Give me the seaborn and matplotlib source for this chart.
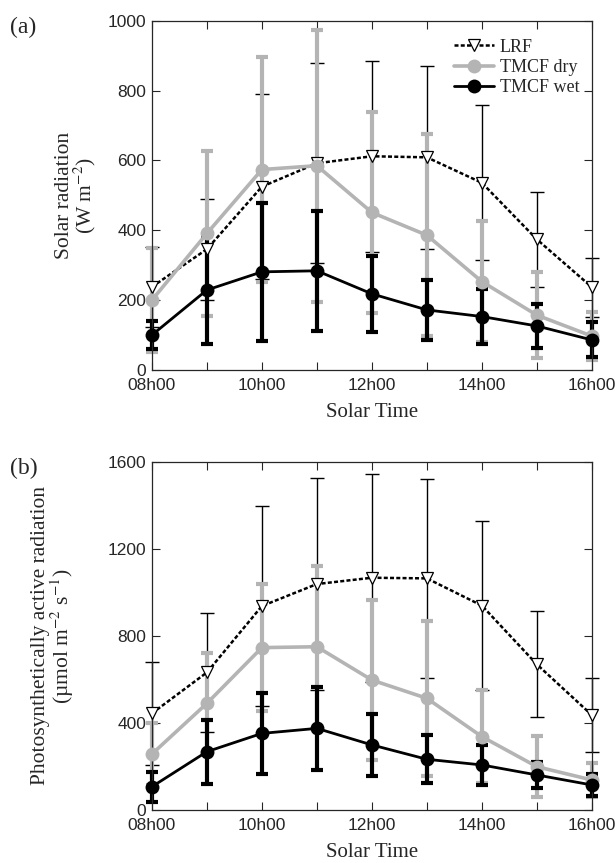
import numpy as np
import pandas as pd
import matplotlib
matplotlib.use("Agg")
import matplotlib.pyplot as plt
import seaborn as sns

# Data
hours = [8, 9, 10, 11, 12, 13, 14, 15, 16]
tick_labels = ["08h00", "10h00", "12h00", "14h00", "16h00"]
series = ["LRF", "TMCF dry", "TMCF wet"]

sr_lrf = [238, 346, 525, 592, 612, 609, 536, 374, 237]
sr_lrf_sd = [115, 145, 265, 286, 274, 262, 222, 135, 85]
sr_dry = [200, 391, 574, 585, 451, 386, 253, 157, 97]
sr_dry_sd = [148, 237, 323, 390, 289, 289, 174, 124, 68]
sr_wet = [100, 229, 281, 284, 218, 172, 153, 126, 86]
sr_wet_sd = [40, 155, 197, 171, 109, 85, 78, 63, 50]

par_lrf = [444, 632, 937, 1038, 1067, 1064, 939, 669, 436]
par_lrf_sd = [237, 274, 459, 488, 478, 458, 390, 244, 169]
par_dry = [257, 490, 746, 750, 597, 513, 337, 199, 138]
par_dry_sd = [141, 230, 292, 371, 368, 357, 214, 140, 80]
par_wet = [107, 268, 352, 375, 299, 233, 207, 161, 115]
par_wet_sd = [68, 147, 186, 191, 143, 110, 90, 61, 50]

sns.set_theme(style="ticks")
plt.rcParams['font.family'] = ['Liberation Sans', 'DejaVu Sans']
plt.rcParams['mathtext.fontset'] = 'stix'
serif = ['Liberation Serif', 'DejaVu Serif']

gray = "#b4b4b4"
styles = {
    "LRF": dict(color="black", lw=1.8, ls=(0, (1.6, 0.9)), marker="v", ms=9,
                mfc="white", mec="black", mew=0.9, elw=1.0, cap=5, capt=1.0),
    "TMCF dry": dict(color=gray, lw=2.6, ls="-", marker="o", ms=10,
                     mfc=gray, mec=gray, mew=0, elw=3.0, cap=4.5, capt=3.0),
    "TMCF wet": dict(color="black", lw=2.0, ls="-", marker="o", ms=10,
                     mfc="black", mec="black", mew=0, elw=3.0, cap=4.5, capt=3.0),
}


def make_df(means, sds):
    rows = []
    for name, m, s in zip(series, means, sds):
        for h, v, e in zip(hours, m, s):
            rows.append({"hour": h, "value": v, "sd": e, "series": name})
    return pd.DataFrame(rows)


df_a = make_df([sr_lrf, sr_dry, sr_wet], [sr_lrf_sd, sr_dry_sd, sr_wet_sd])
df_b = make_df([par_lrf, par_dry, par_wet], [par_lrf_sd, par_dry_sd, par_wet_sd])

fig = plt.figure(figsize=(6.15, 8.63), dpi=100)
ax_a = fig.add_axes([0.247, 0.5713, 0.7154, 0.4046])
ax_b = fig.add_axes([0.247, 0.0614, 0.7154, 0.4036])


def draw(ax, df, ymax, ystep, ylabel, panel, legend, ylabelpad):
    for name in series:
        st = styles[name]
        d = df[df["series"] == name]
        ax.errorbar(d["hour"], d["value"], yerr=d["sd"], fmt="none",
                    ecolor=st["color"], elinewidth=st["elw"], capsize=st["cap"],
                    capthick=st["capt"], clip_on=False, zorder=2)
        sns.lineplot(data=d, x="hour", y="value", ax=ax, color=st["color"],
                     linewidth=st["lw"], linestyle=st["ls"], marker=st["marker"],
                     markersize=st["ms"], markerfacecolor=st["mfc"],
                     markeredgecolor=st["mec"], markeredgewidth=st["mew"],
                     label=name, legend=False, clip_on=False, zorder=3)
    ax.set_xlim(8, 16)
    ax.set_ylim(0, ymax)
    ax.set_xticks(hours)
    ax.set_xticklabels([tick_labels[i // 2] if i % 2 == 0 else "" for i in range(len(hours))])
    ax.set_yticks(np.arange(0, ymax + 1, ystep))
    ax.tick_params(direction="in", top=True, right=True, length=6, width=0.8,
                   labelsize=12.5)
    ax.tick_params(axis="y", pad=4)
    ax.tick_params(axis="x", pad=6)
    for sp in ax.spines.values():
        sp.set_linewidth(0.9)
        sp.set_visible(True)
    ax.set_xlabel("Solar Time", family=serif, fontsize=15, labelpad=7)
    ax.set_ylabel(ylabel, family=serif, fontsize=15.5, labelpad=ylabelpad,
                  linespacing=0.9)
    ax.text(-0.323, 1.01, panel, transform=ax.transAxes, family=serif, fontsize=17,
            va="top", ha="left")
    if legend:
        ax.legend(loc="upper right", bbox_to_anchor=(1.0, 0.985), frameon=False,
                  prop={"family": serif, "size": 13}, handlelength=2.2,
                  handletextpad=0.3, borderaxespad=0.3, labelspacing=0.18)


draw(ax_a, df_a, 1000, 200, "Solar radiation\n(W m$^{-2}$)", "(a)", True, 7)
draw(ax_b, df_b, 1600, 400, "Photosynthetically active radiation\n(\u00b5mol m$^{-2}$ s$^{-1}$)",
     "(b)", False, 23)

fig.savefig("out.png", dpi=100)
